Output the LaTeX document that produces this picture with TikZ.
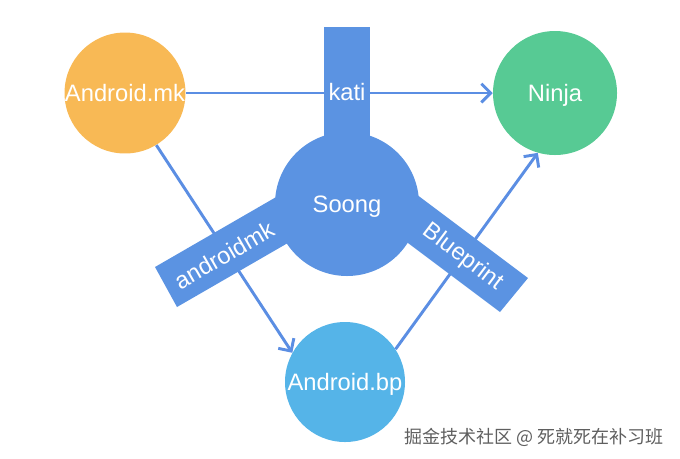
\documentclass[tikz,border=0pt]{standalone}
\usepackage{fontspec}
\setmainfont{Liberation Sans}
\newfontfamily\cjk{Noto Sans CJK SC}
\usetikzlibrary{arrows.meta}
\definecolor{mkorange}{RGB}{248,185,85}
\definecolor{ninjagreen}{RGB}{87,202,148}
\definecolor{soongblue}{RGB}{91,147,226}
\definecolor{bpblue}{RGB}{85,180,232}
\definecolor{arrowblue}{RGB}{91,142,227}
\definecolor{wmgray}{RGB}{95,95,95}
\newcommand\lblfont{\fontsize{17.8}{19}\selectfont}
\begin{document}
\begin{tikzpicture}[x=0.75pt,y=-0.75pt,
  circ/.style={circle, minimum size=#1, inner sep=0pt, text=white, font=\lblfont, text depth=0pt},
  bar/.style={fill=soongblue, draw=none},
  barlabel/.style={text=white, font=\lblfont, inner sep=0pt},
  arr/.style={draw=arrowblue, line width=2.2pt, -{Straight Barb[length=7pt,width=14pt]}}]
\useasboundingbox (0,0) rectangle (680,458);
% nodes
\node[circ=90pt, fill=mkorange] (mk) at (125,93) {Android.mk};
\node[circ=93pt, fill=ninjagreen] (ninja) at (555,93) {Ninja};
\node[circ=90pt, fill=bpblue] (bp) at (345,382) {Android.bp};
% connectors
\draw[arr] (mk) -- (ninja);
\draw[arr] (mk.-59) -- (bp.151);
\draw[arr] (bp.33) -- (ninja.254);
% bars of Soong
\fill[bar] (324,27) rectangle (370,200);
\fill[bar] (155,267) -- (177,307) -- (341.5,212) -- (319.5,172) -- cycle;
\fill[bar] (528,278) -- (500,312) -- (348,198) -- (376,164) -- cycle;
\node[circ=108pt, fill=soongblue] (soong) at (347,204) {Soong};
\node[barlabel] (kati) at (347,92) {kati};
\node[barlabel, rotate=30] (amk) at (224,255) {androidmk};
\node[barlabel, rotate=-37] (blue) at (463,257) {Blueprint};
% watermark
\node[text=wmgray, font=\cjk\fontsize{13.5}{15}\selectfont, inner sep=0pt] (wm) at (534,437) {掘金技术社区 @ 死就死在补习班};
\end{tikzpicture}
\end{document}
